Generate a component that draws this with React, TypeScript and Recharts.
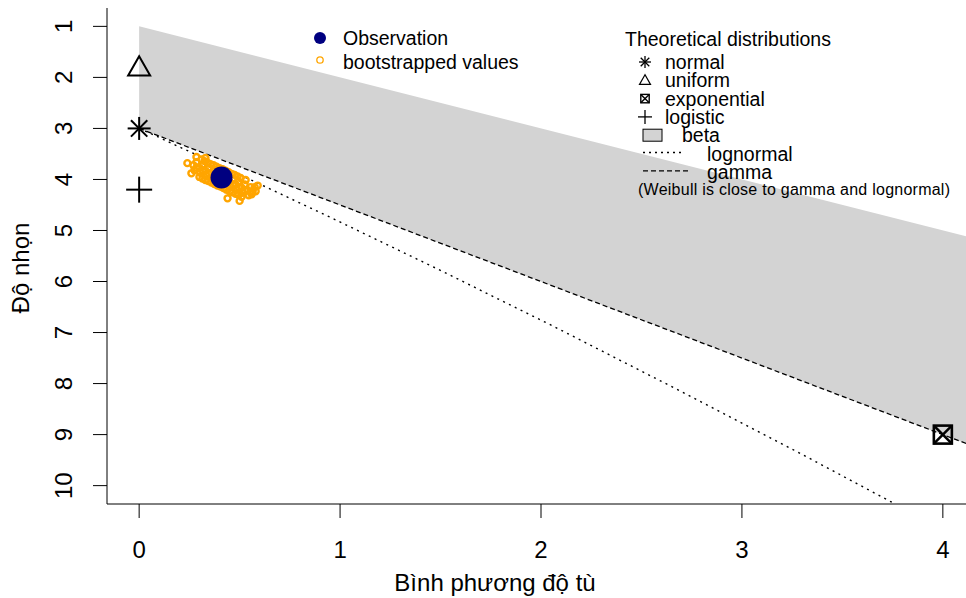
import React from 'react'
import { ComposedChart, XAxis, YAxis, Area, Line, Scatter } from 'recharts'

// axes
const xTicks = [0, 1, 2, 3, 4]
const yTicks = [1, 2, 3, 4, 5, 6, 7, 8, 9, 10]
const xTitle = 'Bình phương độ tù'
const yTitle = 'Độ nhọn'

// beta region (between upper limit and gamma line)
const betaX = [0, 4.16]
const betaUpper = [1, 5.16]
const betaLower = [3, 9.24]

// gamma line
const gammaX = [0, 4.16]
const gammaY = [3, 9.24]

// lognormal curve
const lognormX = [0, 0.091, 0.182, 0.465, 0.961, 1.488, 2.048, 2.641, 3.267, 3.753]
const lognormY = [3, 3.16, 3.33, 3.84, 4.76, 5.76, 6.85, 8.04, 9.32, 10.34]

// single theoretical points
const theoNames = ['normal', 'uniform', 'exponential', 'logistic']
const theoX = [0, 0, 4, 0]
const theoY = [3, 1.8, 9, 4.2]

// observation
const obsX = [0.41]
const obsY = [3.96]

// bootstrapped (skewness^2, kurtosis)
const bootstrapped: [number, number][] = [
  [0.31, 3.61], [0.34, 3.67], [0.37, 3.72], [0.4, 3.78], [0.43, 3.83], [0.46, 3.89], [0.49, 3.94],
  [0.325, 3.64], [0.355, 3.7], [0.385, 3.75], [0.415, 3.8], [0.445, 3.86], [0.475, 3.91], [0.505, 3.97],
  [0.285, 3.66], [0.315, 3.71], [0.345, 3.77], [0.375, 3.82], [0.405, 3.88], [0.435, 3.93],
  [0.465, 3.99], [0.495, 4.04], [0.525, 4.1], [0.555, 4.15],
  [0.27, 3.72], [0.3, 3.77], [0.33, 3.83], [0.36, 3.88], [0.39, 3.94], [0.42, 3.99],
  [0.45, 4.05], [0.48, 4.1], [0.51, 4.16], [0.54, 4.21], [0.565, 4.24],
  [0.285, 3.77], [0.315, 3.82], [0.345, 3.88], [0.375, 3.93], [0.405, 3.99], [0.435, 4.04],
  [0.465, 4.1], [0.495, 4.15], [0.525, 4.21], [0.555, 4.25], [0.575, 4.15],
  [0.275, 3.82], [0.305, 3.87], [0.335, 3.93], [0.365, 3.98], [0.395, 4.04], [0.425, 4.09],
  [0.455, 4.15], [0.485, 4.2], [0.515, 4.26], [0.545, 4.31],
  [0.315, 3.98], [0.345, 4.03], [0.375, 4.09], [0.405, 4.14], [0.435, 4.2], [0.465, 4.25],
  [0.495, 4.3],
  [0.3, 3.95], [0.33, 4.01], [0.36, 4.06], [0.39, 4.12], [0.42, 4.17], [0.45, 4.23],
  [0.48, 4.28], [0.51, 4.34],
  [0.24, 3.68], [0.26, 3.88], [0.53, 4.01], [0.58, 4.23], [0.44, 4.37], [0.5, 4.42],
  [0.56, 4.29], [0.285, 3.56], [0.33, 3.58], [0.59, 4.12],
]

// legends
const obsLegend = ['Observation', 'bootstrapped values']
const theoTitle = 'Theoretical distributions'
const theoLegend = ['normal', 'uniform', 'exponential', 'logistic', 'beta', 'lognormal', 'gamma']
const theoNote = '(Weibull is close to gamma and lognormal)'

const betaData = betaX.map((x, i) => ({ x, range: [betaUpper[i], betaLower[i]] }))
const gammaData = gammaX.map((x, i) => ({ x, y: gammaY[i] }))
const lognormData = lognormX.map((x, i) => ({ x, y: lognormY[i] }))
const theoData = theoNames.map((kind, i) => ({ kind, x: theoX[i], y: theoY[i] }))
const obsData = obsX.map((x, i) => ({ x, y: obsY[i] }))
const bootData = bootstrapped.map(([x, y]) => ({ x, y }))

const FONT = '"Liberation Sans", Arial, Helvetica, sans-serif'
const ORANGE = '#FFA500'
const NAVY = '#000080'
const LEG_FONT = 19.5

function Marker({ kind, cx, cy, s, w }: { kind: string; cx: number; cy: number; s: number; w: number }) {
  if (kind === 'normal') {
    const d = s * 0.71
    return (
      <g stroke="#000" strokeWidth={w}>
        <line x1={cx - s} y1={cy} x2={cx + s} y2={cy} />
        <line x1={cx} y1={cy - s} x2={cx} y2={cy + s} />
        <line x1={cx - d} y1={cy - d} x2={cx + d} y2={cy + d} />
        <line x1={cx - d} y1={cy + d} x2={cx + d} y2={cy - d} />
      </g>
    )
  }
  if (kind === 'uniform') {
    return (
      <polygon
        points={`${cx},${cy - s} ${cx - s},${cy + s * 0.75} ${cx + s},${cy + s * 0.75}`}
        fill="none"
        stroke="#000"
        strokeWidth={w}
      />
    )
  }
  if (kind === 'exponential') {
    return (
      <g stroke="#000" strokeWidth={w} fill="none">
        <rect x={cx - s} y={cy - s} width={2 * s} height={2 * s} />
        <line x1={cx - s} y1={cy - s} x2={cx + s} y2={cy + s} />
        <line x1={cx - s} y1={cy + s} x2={cx + s} y2={cy - s} />
      </g>
    )
  }
  return (
    <g stroke="#000" strokeWidth={w}>
      <line x1={cx - s} y1={cy} x2={cx + s} y2={cy} />
      <line x1={cx} y1={cy - s} x2={cx} y2={cy + s} />
    </g>
  )
}

const plotSize: Record<string, [number, number]> = {
  normal: [11.5, 2],
  uniform: [11, 2],
  exponential: [9, 2.6],
  logistic: [13, 2],
}
const legendSize: Record<string, [number, number]> = {
  normal: [6, 1.3],
  uniform: [5.5, 1.2],
  exponential: [4.2, 1.4],
  logistic: [7, 1.3],
}

const YTick = (props: any) => {
  const { x, y, payload } = props
  return (
    <text
      x={x}
      y={y}
      transform={`rotate(-90 ${x} ${y})`}
      textAnchor="middle"
      fontSize={24}
      fill="#000"
      fontFamily={FONT}
    >
      {payload.value}
    </text>
  )
}

const XTitle = () => (
  <text x={495} y={591} textAnchor="middle" fontSize={24} fill="#000" fontFamily={FONT}>
    {xTitle}
  </text>
)

const YTitle = () => (
  <text x={29} y={268} transform="rotate(-90 29 268)" textAnchor="middle" fontSize={24} fill="#000" fontFamily={FONT}>
    {yTitle}
  </text>
)

function Legends() {
  const rowY = (i: number) => 62 + i * 18.3
  return (
    <svg
      width={966}
      height={598}
      style={{ position: 'absolute', left: 0, top: 0, pointerEvents: 'none' }}
      fontFamily={FONT}
    >
      <circle cx={320} cy={38} r={6} fill={NAVY} />
      <text x={343} y={38} fontSize={LEG_FONT} dominantBaseline="central" fill="#000">{obsLegend[0]}</text>
      <circle cx={320} cy={60} r={3.2} fill="none" stroke={ORANGE} strokeWidth={1.3} />
      <text x={343} y={62} fontSize={LEG_FONT} dominantBaseline="central" fill="#000">{obsLegend[1]}</text>

      <text x={625} y={39} fontSize={LEG_FONT} dominantBaseline="central" fill="#000">{theoTitle}</text>
      {theoLegend.map((name, i) => {
        const cy = rowY(i)
        if (i < 4) {
          const [s, w] = legendSize[name]
          return (
            <g key={name}>
              <Marker kind={name} cx={645} cy={cy} s={s} w={w} />
              <text x={665} y={cy} fontSize={LEG_FONT} dominantBaseline="central" fill="#000">{name}</text>
            </g>
          )
        }
        if (name === 'beta') {
          return (
            <g key={name}>
              <rect x={643} y={cy - 6} width={19} height={12} fill="#D3D3D3" stroke="#000" strokeWidth={1} />
              <text x={682} y={cy} fontSize={LEG_FONT} dominantBaseline="central" fill="#000">{name}</text>
            </g>
          )
        }
        return (
          <g key={name}>
            <line
              x1={643}
              y1={cy - 1}
              x2={name === 'lognormal' ? 683 : 688}
              y2={cy - 1}
              stroke="#000"
              strokeWidth={1.3}
              strokeDasharray={name === 'lognormal' ? '2 4' : '5 3'}
            />
            <text x={707} y={cy} fontSize={LEG_FONT} dominantBaseline="central" fill="#000">{name}</text>
          </g>
        )
      })}
      <text x={638} y={rowY(7) - 1} fontSize={16} textLength={312} dominantBaseline="central" fill="#000">
        {theoNote}
      </text>
    </svg>
  )
}

export default function App() {
  return (
    <div
      style={{
        position: 'absolute',
        left: 0,
        top: 0,
        width: 966,
        height: 598,
        overflow: 'hidden',
        background: '#fff',
        fontFamily: FONT,
      }}
    >
      <ComposedChart width={980} height={598} margin={{ top: 8, right: 5, bottom: 0, left: 0 }}>
        <XAxis
          dataKey="x"
          type="number"
          domain={[-0.16, 4.16]}
          ticks={xTicks}
          interval={0}
          allowDataOverflow
          height={94}
          tickSize={14}
          tickMargin={23}
          tick={{ fill: '#000', fontSize: 24, fontFamily: FONT }}
          axisLine={{ stroke: '#000' }}
          tickLine={{ stroke: '#000' }}
          label={<XTitle />}
        />
        <XAxis
          xAxisId="top"
          orientation="top"
          type="number"
          domain={[-0.16, 4.16]}
          allowDataOverflow
          height={0}
          tick={false}
          tickLine={false}
          axisLine={{ stroke: '#000' }}
        />
        <YAxis
          dataKey="y"
          type="number"
          domain={[0.64, 10.36]}
          reversed
          ticks={yTicks}
          interval={0}
          allowDataOverflow
          width={107}
          tickSize={14}
          tickMargin={21}
          tick={<YTick />}
          axisLine={{ stroke: '#000' }}
          tickLine={{ stroke: '#000' }}
          label={<YTitle />}
        />
        <Area
          data={betaData}
          dataKey="range"
          type="linear"
          fill="#D3D3D3"
          fillOpacity={1}
          stroke="none"
          dot={false}
          activeDot={false}
          isAnimationActive={false}
        />
        <Line
          data={gammaData}
          dataKey="y"
          type="linear"
          stroke="#000"
          strokeWidth={1.3}
          strokeDasharray="5 3"
          dot={false}
          activeDot={false}
          isAnimationActive={false}
        />
        <Line
          data={lognormData}
          dataKey="y"
          type="linear"
          stroke="#000"
          strokeWidth={1.4}
          strokeDasharray="2 4.5"
          dot={false}
          activeDot={false}
          isAnimationActive={false}
        />
        <Scatter
          data={theoData}
          dataKey="y"
          isAnimationActive={false}
          shape={(p: any) => {
            const [s, w] = plotSize[p.payload.kind]
            return <Marker kind={p.payload.kind} cx={p.cx} cy={p.cy} s={s} w={w} />
          }}
        />
        <Scatter
          data={bootData}
          dataKey="y"
          isAnimationActive={false}
          shape={(p: any) => <circle cx={p.cx} cy={p.cy} r={3} fill="none" stroke={ORANGE} strokeWidth={2.4} />}
        />
        <Scatter
          data={obsData}
          dataKey="y"
          isAnimationActive={false}
          shape={(p: any) => <circle cx={p.cx} cy={p.cy} r={11} fill={NAVY} />}
        />
      </ComposedChart>
      <Legends />
    </div>
  )
}
